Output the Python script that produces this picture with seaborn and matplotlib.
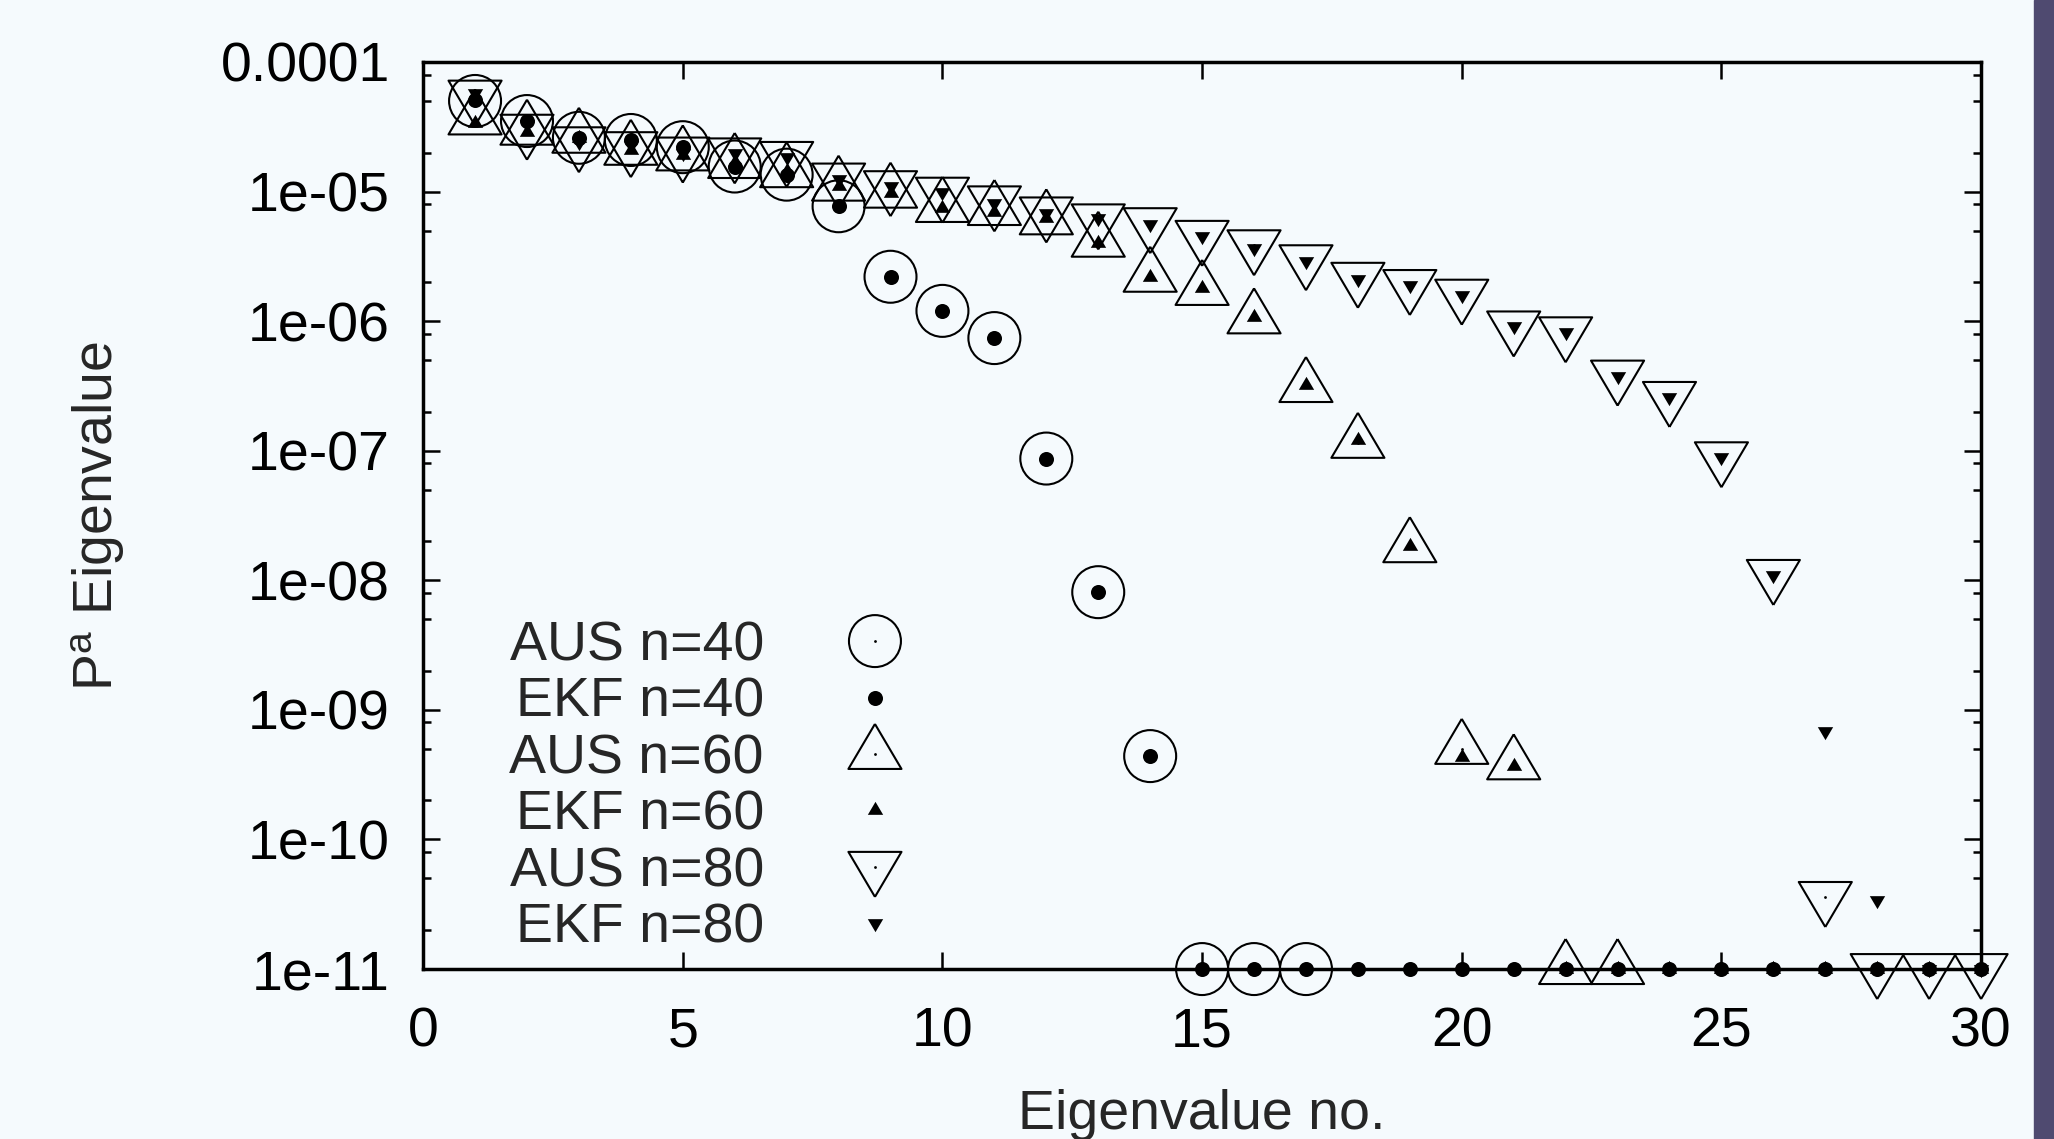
import matplotlib
matplotlib.use("Agg")
import matplotlib.pyplot as plt
from matplotlib.legend_handler import HandlerTuple
from matplotlib.patches import Rectangle
from matplotlib.ticker import LogLocator, NullFormatter
import seaborn as sns

# --- data (zero eigenvalues sit on the 1e-11 floor) ---
aus40_x = list(range(1, 18))
aus40_y = [5.0e-5, 3.5e-5, 2.6e-5, 2.5e-5, 2.2e-5, 1.56e-5, 1.35e-5, 7.7e-6, 2.2e-6,
           1.2e-6, 7.4e-7, 8.7e-8, 8.1e-9, 4.4e-10, 1e-11, 1e-11, 1e-11]

ekf40_x = list(range(1, 31))
ekf40_y = [5.1e-5, 3.5e-5, 2.6e-5, 2.5e-5, 2.2e-5, 1.56e-5, 1.35e-5, 7.7e-6, 2.2e-6,
           1.2e-6, 7.4e-7, 8.7e-8, 8.1e-9, 4.4e-10, 1e-11, 1e-11, 1e-11, 1e-11,
           1e-11, 1e-11, 1e-11, 1e-11, 1e-11, 1e-11, 1e-11, 1e-11, 1e-11, 1e-11,
           1e-11, 1e-11]

aus60_x = list(range(1, 24))
aus60_y = [3.6e-5, 3.0e-5, 2.6e-5, 2.1e-5, 1.9e-5, 1.66e-5, 1.41e-5, 1.11e-5, 9.8e-6,
           7.6e-6, 7.2e-6, 6.1e-6, 4.1e-6, 2.2e-6, 1.74e-6, 1.05e-6, 3.1e-7, 1.15e-7,
           1.8e-8, 5.0e-10, 3.8e-10, 1e-11, 1e-11]

ekf60_x = list(range(1, 31))
ekf60_y = [3.4e-5, 2.9e-5, 2.6e-5, 2.1e-5, 1.9e-5, 1.7e-5, 1.45e-5, 1.1e-5, 9.8e-6,
           7.4e-6, 7.0e-6, 6.2e-6, 4.0e-6, 2.2e-6, 1.8e-6, 1.08e-6, 3.2e-7, 1.2e-7,
           1.85e-8, 4.3e-10, 3.7e-10, 1e-11, 1e-11, 1e-11, 1e-11, 1e-11, 1e-11,
           1e-11, 1e-11, 1e-11]

aus80_x = list(range(1, 31))
aus80_y = [5.5e-5, 3.0e-5, 2.4e-5, 2.2e-5, 2.0e-5, 1.97e-5, 1.85e-5, 1.26e-5, 1.1e-5,
           9.8e-6, 8.4e-6, 6.9e-6, 6.1e-6, 5.7e-6, 4.55e-6, 3.85e-6, 2.95e-6, 2.16e-6,
           1.9e-6, 1.6e-6, 9.1e-7, 8.2e-7, 3.8e-7, 2.6e-7, 8.9e-8, 1.1e-8, 3.6e-11,
           1e-11, 1e-11, 1e-11]

ekf80_x = list(range(1, 31))
ekf80_y = [5.8e-5, 3.3e-5, 2.4e-5, 2.3e-5, 2.0e-5, 2.0e-5, 1.86e-5, 1.25e-5, 1.1e-5,
           1.0e-5, 8.2e-6, 6.8e-6, 6.2e-6, 5.6e-6, 4.5e-6, 3.7e-6, 2.9e-6, 2.1e-6,
           1.9e-6, 1.6e-6, 9.2e-7, 8.3e-7, 3.8e-7, 2.6e-7, 8.9e-8, 1.1e-8, 6.9e-10,
           3.4e-11, 1e-11, 1e-11]

x_ticks = [0, 5, 10, 15, 20, 25, 30]
x_tick_labels = ["0", "5", "10", "15", "20", "25", "30"]
y_ticks = [1e-4, 1e-5, 1e-6, 1e-7, 1e-8, 1e-9, 1e-10, 1e-11]
y_tick_labels = ["0.0001", "1e-05", "1e-06", "1e-07", "1e-08", "1e-09", "1e-10", "1e-11"]

# gnuplot-like triangles, centred on their centroid
TRI_UP = [(0, 0.667), (-0.59, -0.333), (0.59, -0.333), (0, 0.667)]
TRI_DOWN = [(0, -0.667), (-0.59, 0.333), (0.59, 0.333), (0, -0.667)]

BG = "#f5fafd"
FS = 40

sns.set_theme(style="ticks")
plt.rcParams["font.family"] = ["Liberation Sans", "DejaVu Sans"]
plt.rcParams["mathtext.fontset"] = "custom"
plt.rcParams["mathtext.rm"] = "Liberation Sans"
plt.rcParams["mathtext.it"] = "Liberation Sans:italic"

fig = plt.figure(figsize=(20.54, 11.39), dpi=100, facecolor=BG)
ax = fig.add_axes([0.206, 0.1492, 0.7585, 0.7964])
ax.set_facecolor(BG)
ax.set_yscale("log")


def draw(x, y, marker, size, filled):
    sns.scatterplot(x=x, y=y, ax=ax, marker=marker, s=size,
                    facecolor="black" if filled else "none", edgecolor="black",
                    linewidth=0 if filled else 1.5, clip_on=False, zorder=3,
                    legend=False)
    return ax.collections[-1]


def centre_dot(x, y):
    sns.scatterplot(x=x, y=y, ax=ax, marker="o", s=4, facecolor="black",
                    edgecolor="black", linewidth=0, clip_on=False, zorder=4,
                    legend=False)
    return ax.collections[-1]


handles = []
h = draw(aus40_x, aus40_y, "o", 1400, False)
handles.append((h, centre_dot(aus40_x, aus40_y)))
handles.append(draw(ekf40_x, ekf40_y, "o", 117, True))
h = draw(aus60_x, aus60_y, TRI_UP, 1866, False)
handles.append((h, centre_dot(aus60_x, aus60_y)))
handles.append(draw(ekf60_x, ekf60_y, TRI_UP, 156, True))
h = draw(aus80_x, aus80_y, TRI_DOWN, 1866, False)
handles.append((h, centre_dot(aus80_x, aus80_y)))
handles.append(draw(ekf80_x, ekf80_y, TRI_DOWN, 156, True))
labels = ["AUS n=40", "EKF n=40", "AUS n=60", "EKF n=60", "AUS n=80", "EKF n=80"]

ax.set_xlim(0, 30)
ax.set_ylim(1e-11, 1e-4)
ax.set_xticks(x_ticks, labels=x_tick_labels)
ax.set_yticks(y_ticks, labels=y_tick_labels)
ax.yaxis.set_minor_locator(LogLocator(base=10, subs=[2, 5, 8], numticks=100))
ax.yaxis.set_minor_formatter(NullFormatter())

for s in ax.spines.values():
    s.set_linewidth(2.5)
    s.set_color("black")
ax.tick_params(which="both", direction="in", top=True, right=True, colors="black",
               width=1.8, labelsize=FS)
ax.tick_params(which="major", length=12)
ax.tick_params(axis="y", which="major", pad=24)
ax.tick_params(axis="x", which="major", pad=27)
ax.tick_params(which="minor", length=6)

ax.set_xlabel("Eigenvalue no.", fontsize=FS)
ax.set_ylabel(r"P$^{\mathrm{a}}$ Eigenvalue", fontsize=FS)
ax.xaxis.set_label_coords(0.5, -0.132)
ax.yaxis.set_label_coords(-0.19, 0.5)

ax.legend(handles=handles, labels=labels,
          handler_map={tuple: HandlerTuple(ndivide=1, pad=0)},
          loc="center right", bbox_to_anchor=(0.3435, 0.200), frameon=False,
          markerfirst=False, fontsize=FS, labelspacing=0.08, handlelength=2.0,
          handletextpad=1.0, borderpad=0, scatterpoints=1, scatteryoffsets=[0.5])

# purple strip on the right edge of the original image
fig.add_artist(Rectangle((0.9903, 0), 0.0097, 1, transform=fig.transFigure,
                         color="#4f4a70", zorder=0))

fig.savefig("out.png", dpi=100, facecolor=BG)
